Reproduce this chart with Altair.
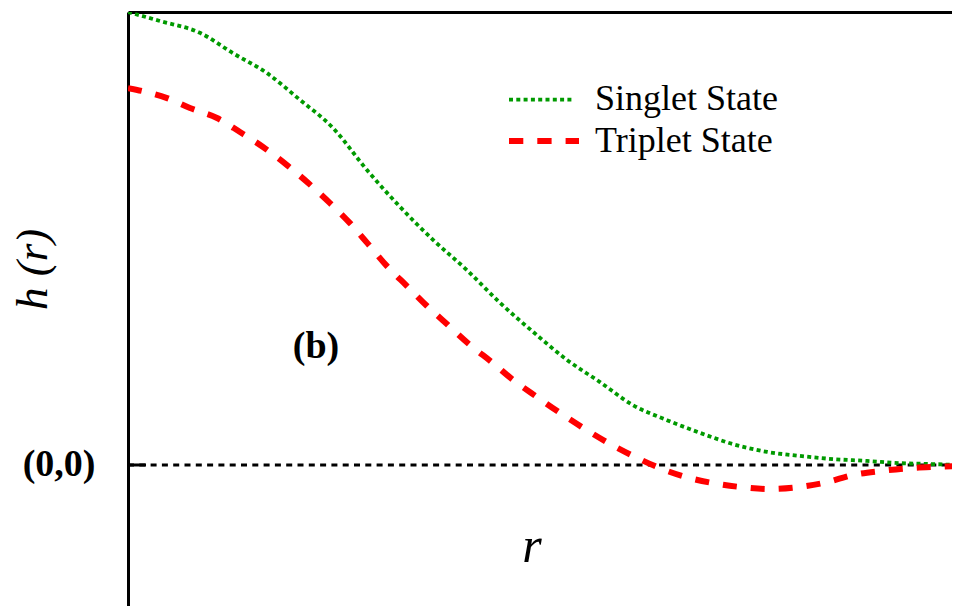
import altair as alt
import pandas as pd

# ---- data (r in arbitrary units, h normalised so h(0) of singlet = 1) ----
singlet_r = [0.0, 0.385, 0.865, 1.262, 1.671, 2.067, 2.464, 2.873, 3.269, 3.666, 4.075, 4.471,
             4.868, 5.276, 5.673, 6.070, 6.478, 6.875, 7.272, 7.680, 8.077, 8.474, 8.882,
             9.279, 9.675, 9.964]
singlet_h = [1.000, 0.980, 0.954, 0.909, 0.865, 0.806, 0.744, 0.651, 0.570, 0.497, 0.430, 0.358,
             0.294, 0.232, 0.183, 0.132, 0.099, 0.071, 0.046, 0.029, 0.020, 0.013, 0.009,
             0.004, 0.002, 0.000]

triplet_r = [0.0, 0.469, 0.745, 1.070, 1.346, 1.623, 1.911, 2.163, 2.428, 2.668, 2.885, 3.113,
             3.353, 3.594, 3.846, 4.111, 4.387, 4.627, 4.916, 5.192, 5.469, 5.769, 6.070,
             6.394, 6.695, 7.031, 7.380, 7.716, 8.053, 8.401, 8.714, 9.062, 9.399, 9.736, 10.0]
triplet_h = [0.832, 0.810, 0.788, 0.766, 0.735, 0.702, 0.662, 0.623, 0.578, 0.534, 0.488, 0.439,
             0.395, 0.351, 0.309, 0.265, 0.225, 0.188, 0.150, 0.115, 0.082, 0.049, 0.020,
             -0.007, -0.026, -0.040, -0.049, -0.053, -0.049, -0.038, -0.022, -0.013, -0.007,
             -0.004, -0.002]

series_names = ["Singlet State", "Triplet State"]
x_domain = [0.0, 9.904]
y_domain = [-0.3113, 1.0]

FONT = "Liberation Serif"
GREEN = "#009a00"
RED = "#ff0000"

df_s = pd.DataFrame({"r": singlet_r, "h": singlet_h})
df_t = pd.DataFrame({"r": triplet_r, "h": triplet_h})

xs = alt.Scale(domain=x_domain, nice=False, zero=False)
ys = alt.Scale(domain=y_domain, nice=False, zero=False)

x_axis = alt.Axis(orient="top", domain=True, domainColor="black", domainWidth=3,
                  ticks=False, labels=False, grid=False, title=None)
y_axis = alt.Axis(orient="left", values=[0], labelExpr="'(0,0)'", labelFont=FONT,
                  labelFontWeight="bold", labelFontSize=38, labelColor="black",
                  labelPadding=33, ticks=False, grid=False, domain=True,
                  domainColor="black", domainWidth=3,
                  title="h (r)", titleFont=FONT, titleFontStyle="italic",
                  titleFontWeight="normal", titleFontSize=45, titleColor="black",
                  titleAngle=-90, titleX=-82, titleY=257, titleAlign="center",
                  titleBaseline="alphabetic")

base_s = alt.Chart(df_s)
base_t = alt.Chart(df_t)

singlet = base_s.mark_line(clip=True, color=GREEN, strokeWidth=3.8,
                           strokeDash=[4, 3.3], interpolate="monotone").encode(
    x=alt.X("r:Q", scale=xs, axis=x_axis),
    y=alt.Y("h:Q", scale=ys, axis=y_axis),
)
triplet = base_t.mark_line(clip=True, color=RED, strokeWidth=6,
                           strokeDash=[14, 14], interpolate="monotone").encode(
    x=alt.X("r:Q", scale=xs),
    y=alt.Y("h:Q", scale=ys),
)

zero_line = alt.Chart(pd.DataFrame({"a": [0]})).mark_rule(
    color="black", strokeWidth=3, strokeDash=[6, 5.3]).encode(
    x=alt.datum(x_domain[0], scale=xs), x2=alt.datum(x_domain[1]),
    y=alt.datum(0, scale=ys),
)
zero_tick = alt.Chart(pd.DataFrame({"a": [0]})).mark_rule(
    color="black", strokeWidth=3).encode(
    x=alt.value(0), x2=alt.value(18), y=alt.datum(0, scale=ys),
)

# annotation texts
ann = alt.Chart(pd.DataFrame({"a": [0]}))
label_b = ann.mark_text(text="(b)", font=FONT, fontWeight="bold", fontSize=38,
                        color="black", align="center", baseline="alphabetic").encode(
    x=alt.datum(2.26, scale=xs), y=alt.datum(0.236, scale=ys))
label_r = ann.mark_text(text="r", font=FONT, fontStyle="italic", fontSize=50,
                        color="black", align="center", baseline="alphabetic").encode(
    x=alt.datum(4.856, scale=xs), y=alt.datum(-0.214, scale=ys))

# legend (drawn manually)
leg_s_line = ann.mark_rule(color=GREEN, strokeWidth=3.8, strokeDash=[4, 3.3]).encode(
    x=alt.value(381), x2=alt.value(444), y=alt.value(87.7))
leg_t_line = ann.mark_rule(color=RED, strokeWidth=6, strokeDash=[14.3, 14]).encode(
    x=alt.value(381), x2=alt.value(451), y=alt.value(129))
leg_s_text = ann.mark_text(text=series_names[0], font=FONT, fontSize=36, color="black",
                           align="left", baseline="alphabetic").encode(
    x=alt.value(467), y=alt.value(98))
leg_t_text = ann.mark_text(text=series_names[1], font=FONT, fontSize=36, color="black",
                           align="left", baseline="alphabetic").encode(
    x=alt.value(467), y=alt.value(140))

chart = alt.layer(
    zero_line, zero_tick, singlet, triplet, label_b, label_r,
    leg_s_line, leg_t_line, leg_s_text, leg_t_text,
).properties(
    width=824, height=594,
    autosize=alt.AutoSizeParams(type="none"),
    padding={"left": 120, "top": 4, "right": 0, "bottom": 0},
    background="white",
).configure_view(strokeWidth=0)

chart.save("out.html", embed_options={"renderer": "svg", "actions": False})
